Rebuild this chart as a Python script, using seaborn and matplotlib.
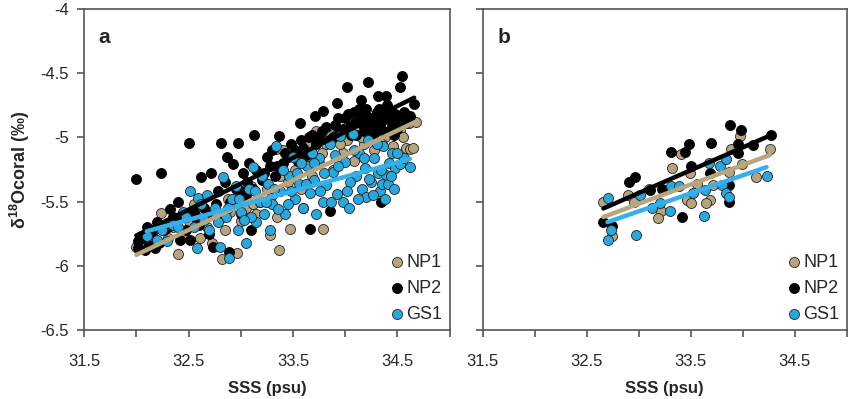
import seaborn as sns
import matplotlib.pyplot as plt
import pandas as pd

# panel a : NP1
np1_a_x = [32.00, 32.05, 32.24, 32.40, 32.30, 32.45, 32.55, 32.61, 32.68, 32.75,
           32.82, 32.88, 32.96, 33.00, 33.05, 33.10, 33.15, 33.20, 33.28, 33.30,
           33.34, 33.37, 33.40, 33.45, 33.47, 33.52, 33.58, 33.62, 33.68, 33.72,
           33.75, 33.79, 33.82, 33.88, 33.92, 33.98, 34.02, 34.08, 34.12, 34.18,
           34.22, 34.28, 34.32, 34.38, 34.42, 34.46, 34.52, 34.58, 34.61, 34.62,
           34.68, 32.15, 32.50, 32.90, 33.60, 33.35,
           32.10, 32.35, 32.58, 32.72, 32.85, 33.02, 33.12, 33.25, 33.38, 33.55,
           33.65, 33.78, 33.85, 33.95, 34.05, 34.15, 34.25, 34.35, 34.45, 34.55,
           34.65]
np1_a_y = [-5.85, -5.83, -5.59, -5.91, -5.78, -5.75, -5.52, -5.78, -5.70, -5.60,
           -5.95, -5.48, -5.90, -5.65, -5.55, -5.38, -5.60, -5.30, -5.76, -5.45,
           -5.09, -5.88, -5.10, -5.35, -5.71, -5.25, -5.40, -5.15, -5.30, -4.95,
           -5.20, -5.71, -5.05, -5.25, -4.98, -5.12, -5.02, -5.18, -4.92, -5.05,
           -4.90, -5.10, -4.85, -5.00, -4.80, -5.07, -4.95, -5.08, -4.89, -5.09,
           -4.88, -5.72, -5.65, -5.58, -5.55, -5.62,
           -5.80, -5.70, -5.62, -5.82, -5.72, -5.48, -5.52, -5.40, -5.30, -5.18,
           -5.05, -5.12, -4.98, -5.05, -4.92, -5.00, -4.95, -5.05, -4.90, -5.00,
           -5.08]

# panel a : NP2
np2_a_x = [32.00, 32.24, 32.50, 32.81, 32.97, 33.13, 32.32, 32.40, 32.62, 32.71,
           32.87, 32.93, 33.37, 33.57, 33.71, 33.79, 33.92, 34.02, 34.15, 34.22,
           34.31, 34.39, 34.54, 34.52, 34.66, 34.58, 33.66, 33.85, 34.34, 32.89,
           32.73, 32.51, 32.02, 32.26, 32.45, 32.55, 32.65, 32.78, 32.85, 32.95,
           33.02, 33.08, 33.15, 33.20, 33.25, 33.30, 33.35, 33.42, 33.48, 33.55,
           33.60, 33.65, 33.72, 33.78, 33.84, 33.90, 33.95, 34.00, 34.05, 34.08,
           34.10, 34.12, 34.16, 34.18, 34.20, 34.24, 34.26, 34.28, 34.30, 34.33,
           34.36, 34.40, 34.42, 34.45, 34.48, 34.50, 34.62, 32.10, 32.20, 32.35,
           32.60, 32.70, 33.00, 33.10, 33.05, 33.18,
           32.05, 32.15, 32.30, 32.38, 32.48, 32.58, 32.68, 32.76, 32.82, 32.90,
           33.00, 33.06, 33.12, 33.22, 33.28, 33.33, 33.40, 33.45, 33.52, 33.58,
           33.62, 33.68, 33.75, 33.82, 33.88, 33.93, 33.98, 34.03, 34.06, 34.09,
           34.13, 34.17, 34.21, 34.25, 34.29, 34.32, 34.35, 34.38, 34.44, 34.47,
           34.53, 34.56,
           32.02, 32.12, 32.22, 32.42, 32.08, 32.18]
np2_a_y = [-5.32, -5.28, -5.04, -5.04, -5.04, -4.98, -5.56, -5.50, -5.31, -5.28,
           -5.15, -5.21, -4.99, -4.89, -4.83, -4.79, -4.73, -4.61, -4.71, -4.57,
           -4.68, -4.68, -4.52, -4.61, -4.74, -4.89, -5.71, -5.57, -5.50, -5.89,
           -5.85, -5.80, -5.81, -5.72, -5.62, -5.58, -5.55, -5.42, -5.35, -5.40,
           -5.28, -5.20, -5.25, -5.33, -5.15, -5.10, -5.22, -5.12, -5.05, -5.18,
           -5.08, -5.00, -5.05, -4.95, -5.02, -4.90, -4.96, -4.85, -4.92, -4.80,
           -4.98, -4.88, -4.83, -4.95, -4.78, -4.90, -4.85, -4.97, -4.80, -4.92,
           -4.86, -4.75, -4.95, -4.88, -4.82, -4.93, -4.83, -5.70, -5.66, -5.62,
           -5.68, -5.75, -5.60, -5.72, -5.45, -5.50,
           -5.78, -5.75, -5.70, -5.66, -5.72, -5.64, -5.60, -5.52, -5.62, -5.50,
           -5.42, -5.35, -5.40, -5.28, -5.22, -5.30, -5.20, -5.15, -5.10, -5.02,
           -5.14, -4.98, -5.00, -4.92, -5.00, -4.85, -4.93, -4.82, -4.98, -4.88,
           -4.78, -4.90, -4.84, -4.95, -4.87, -4.78, -4.94, -4.83, -4.79, -4.98,
           -4.86, -4.80,
           -5.86, -5.84, -5.82, -5.80, -5.88, -5.86]

# panel a : GS1
gs1_a_x = [32.10, 32.20, 32.29, 32.35, 32.45, 32.51, 32.59, 32.58, 32.65, 32.70,
           32.75, 32.80, 32.83, 32.86, 32.89, 32.92, 32.97, 33.00, 33.05, 33.08,
           33.12, 33.15, 33.18, 33.22, 33.26, 33.30, 33.34, 33.38, 33.42, 33.46,
           33.50, 33.52, 33.56, 33.60, 33.63, 33.66, 33.70, 33.72, 33.75, 33.79,
           33.82, 33.85, 33.88, 33.92, 33.95, 33.98, 34.00, 34.04, 34.07, 34.10,
           34.13, 34.16, 34.19, 34.22, 34.25, 34.28, 34.31, 34.33, 34.36, 34.39,
           34.42, 34.45, 34.48, 34.52, 34.56, 34.62, 32.40, 32.62, 32.95, 33.10,
           33.28, 33.45, 33.58, 33.68, 33.90, 34.05, 34.20, 34.35,
           32.25, 32.48, 32.55, 32.68, 32.78, 32.88, 32.98, 33.03, 33.14, 33.20,
           33.24, 33.32, 33.36, 33.40, 33.48, 33.54, 33.62, 33.70, 33.76, 33.80,
           33.86, 33.93, 34.02, 34.08, 34.12, 34.18, 34.23, 34.27, 34.30, 34.34,
           34.38, 34.41, 34.44, 34.47, 34.50]
gs1_a_y = [-5.77, -5.80, -5.81, -5.68, -5.58, -5.42, -5.47, -5.86, -5.64, -5.72,
           -5.55, -5.85, -5.31, -5.62, -5.94, -5.48, -5.72, -5.58, -5.82, -5.40,
           -5.23, -5.66, -5.50, -5.60, -5.36, -5.52, -5.07, -5.42, -5.60, -5.30,
           -5.15, -5.48, -5.36, -5.55, -5.22, -5.43, -5.33, -5.60, -5.16, -5.50,
           -5.37, -5.05, -5.27, -5.44, -4.99, -5.50, -5.19, -5.55, -4.97, -5.30,
           -5.12, -5.40, -5.24, -5.02, -5.35, -5.16, -5.28, -5.42, -5.07, -5.29,
           -5.20, -5.12, -5.24, -5.21, -5.16, -5.23, -5.70, -5.52, -5.38, -5.62,
           -5.72, -5.52, -5.20, -5.12, -5.14, -5.35, -5.46, -5.36,
           -5.72, -5.62, -5.70, -5.45, -5.66, -5.55, -5.48, -5.64, -5.42, -5.30,
           -5.50, -5.40, -5.56, -5.25, -5.42, -5.28, -5.36, -5.20, -5.42, -5.28,
           -5.50, -5.22, -5.42, -5.10, -5.48, -5.16, -5.32, -5.45, -5.05, -5.25,
           -5.48, -5.36, -5.30, -5.40, -5.12]

# panel b
np1_b_x = [33.97, 33.89, 34.26, 33.99, 33.87, 34.13, 33.41, 33.32, 33.49, 33.71,
           33.69, 33.65, 33.46, 33.50, 33.10, 33.21, 33.19, 32.90, 32.95, 32.66,
           32.74, 33.56]
np1_b_y = [-4.99, -5.09, -5.09, -5.21, -5.27, -5.31, -5.13, -5.24, -5.28, -5.37,
           -5.49, -5.51, -5.49, -5.51, -5.40, -5.57, -5.63, -5.45, -5.50, -5.50,
           -5.77, -5.36]
np2_b_x = [33.88, 33.98, 34.27, 33.96, 34.10, 33.70, 33.48, 33.45, 33.31, 33.50,
           33.69, 33.87, 33.87, 32.96, 32.91, 33.11, 33.22, 33.42, 32.66, 32.74,
           33.96]
np2_b_y = [-4.90, -4.94, -4.98, -5.05, -5.06, -5.04, -5.05, -5.11, -5.11, -5.22,
           -5.28, -5.37, -5.50, -5.31, -5.35, -5.41, -5.40, -5.62, -5.66, -5.69,
           -5.12]
gs1_b_x = [32.70, 32.70, 32.73, 32.97, 33.01, 33.13, 33.30, 33.31, 33.39, 33.52,
           33.64, 33.63, 33.68, 33.78, 33.84, 33.80, 33.84, 33.87, 34.23, 33.20]
gs1_b_y = [-5.47, -5.80, -5.72, -5.76, -5.45, -5.55, -5.57, -5.38, -5.38, -5.43,
           -5.41, -5.61, -5.20, -5.22, -5.17, -5.37, -5.43, -5.46, -5.30, -5.51]

cores = ['NP1', 'NP2', 'GS1']
point_colors = {'NP1': '#b6a47e', 'NP2': '#000000', 'GS1': '#29a8e0'}
line_colors = {'NP1': '#b9a67c', 'NP2': '#000000', 'GS1': '#35b0ea'}

rows = []
for panel, series in [('a', [(np1_a_x, np1_a_y), (np2_a_x, np2_a_y), (gs1_a_x, gs1_a_y)]),
                      ('b', [(np1_b_x, np1_b_y), (np2_b_x, np2_b_y), (gs1_b_x, gs1_b_y)])]:
    for core, (xs, ys) in zip(cores, series):
        for x, y in zip(xs, ys):
            rows.append({'panel': panel, 'core': core, 'SSS': x, 'd18O': y})
df = pd.DataFrame(rows)

sns.set_style('white')
plt.rcParams['font.family'] = ['Liberation Sans', 'DejaVu Sans']
plt.rcParams['mathtext.fontset'] = 'custom'
plt.rcParams['mathtext.rm'] = 'Liberation Sans'
plt.rcParams['mathtext.bf'] = 'Liberation Sans:bold'

fig = plt.figure(figsize=(8.5, 3.99), dpi=100)
ax_a = fig.add_axes([0.099, 0.173, 0.430, 0.804])
ax_b = fig.add_axes([0.568, 0.173, 0.428, 0.804])

for ax, panel in [(ax_a, 'a'), (ax_b, 'b')]:
    sub = df[df['panel'] == panel]
    for core in cores:
        d = sub[sub['core'] == core]
        sns.scatterplot(data=d, x='SSS', y='d18O', ax=ax, color=point_colors[core],
                        s=52, edgecolor='#222222' if core != 'NP2' else 'black',
                        linewidth=0.6, label=core, zorder=2)
    for core in ['NP2', 'NP1', 'GS1']:
        d = sub[sub['core'] == core]
        sns.regplot(data=d, x='SSS', y='d18O', ax=ax, scatter=False, ci=None,
                    color=line_colors[core], line_kws={'linewidth': 3.2, 'zorder': 3})

    ax.set_xlim(31.5, 35)
    ax.set_ylim(-6.5, -4)
    ax.set_xticks([31.5, 32, 32.5, 33, 33.5, 34, 34.5, 35])
    ax.set_xticklabels(['31.5', '', '32.5', '', '33.5', '', '34.5', ''])
    ax.set_yticks([-6.5, -6, -5.5, -5, -4.5, -4])
    if panel == 'a':
        ax.set_yticklabels(['-6.5', '-6', '-5.5', '-5', '-4.5', '-4'])
        ax.set_ylabel(r'δ$^{\mathbf{18}}$Ocoral (‰)', fontsize=13,
                      fontweight='bold', labelpad=6)
    else:
        ax.set_yticklabels([])
        ax.set_ylabel('')
    ax.set_xlabel('SSS (psu)', fontsize=12, fontweight='bold', labelpad=9)
    ax.tick_params(direction='out', length=5, width=1.2, color='#555555',
                   labelsize=12, pad=12, bottom=True, left=True)
    ax.tick_params(axis='y', pad=6)
    for sp in ax.spines.values():
        sp.set_color('#555555')
        sp.set_linewidth(1.2)
    ax.text(0.04, 0.94, panel, transform=ax.transAxes, fontsize=15,
            fontweight='bold', va='top', ha='left')
    ax.legend(loc='lower right', frameon=False, fontsize=13, handletextpad=0.0,
              handlelength=1.0, labelspacing=0.5, borderaxespad=0.1,
              borderpad=0.3, markerscale=1.0)

fig.savefig('out.png', dpi=100)
